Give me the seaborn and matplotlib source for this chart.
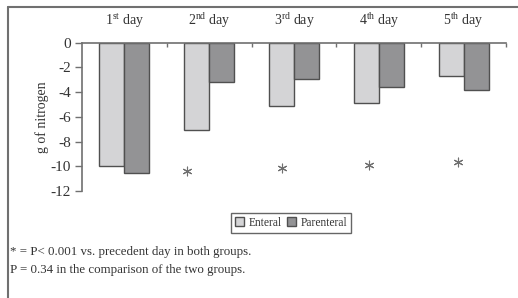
import matplotlib
matplotlib.use("Agg")
import matplotlib.pyplot as plt
import seaborn as sns
import pandas as pd
from matplotlib.lines import Line2D

days = ["1$^{\\mathrm{st}}$ day", "2$^{\\mathrm{nd}}$ day", "3$^{\\mathrm{rd}}$ day",
        "4$^{\\mathrm{th}}$ day", "5$^{\\mathrm{th}}$ day"]
enteral = [-10.0, -7.05, -5.1, -4.9, -2.7]
parenteral = [-10.5, -3.2, -2.9, -3.6, -3.8]
groups = ["Enteral", "Parenteral"]
colors = ["#d4d4d6", "#939395"]
yticks = [0, -2, -4, -6, -8, -10, -12]
# asterisk annotation positions (category index, value)
star_x = [0.74, 1.86, 2.89, 3.93]
star_y = [-10.4, -10.1, -9.9, -9.6]
footnotes = ["* = P< 0.001 vs. precedent day in both groups.",
             "P = 0.34 in the comparison of the two groups."]

df = pd.DataFrame({
    "day": days * 2,
    "group": [groups[0]] * 5 + [groups[1]] * 5,
    "value": enteral + parenteral,
})

sns.set_theme(style="white")
plt.rcParams["font.family"] = ["Liberation Serif", "DejaVu Serif"]
plt.rcParams["mathtext.fontset"] = "custom"
plt.rcParams["mathtext.rm"] = "Liberation Serif"

fig = plt.figure(figsize=(5.18, 2.98), dpi=100)
ax = fig.add_axes([82 / 518, 1 - 191.2 / 298, (506 - 82) / 518, (191.2 - 42.7) / 298])

sns.barplot(data=df, x="day", y="value", hue="group", palette=colors,
            width=0.59, gap=0, edgecolor="#505050", linewidth=1.0,
            ax=ax, legend=True)

ax.set_ylim(-12, 0)
ax.set_xlim(-0.5, 4.5)
ax.set_yticks(yticks)
ax.set_yticklabels([str(v) for v in yticks], fontsize=11)
ax.set_ylabel("g of nitrogen", fontsize=10, labelpad=1, color="#333333")
ax.set_xlabel("")

ax.xaxis.tick_top()
ax.set_xticks(range(5))
ax.set_xticklabels(days, fontsize=10)
ax.tick_params(axis="x", which="major", length=0, pad=9, colors="#333333")
ax.set_xticks([0.5, 1.5, 2.5, 3.5, 4.5], minor=True)
ax.tick_params(axis="x", which="minor", direction="in", length=3, width=1, color="#707070")
ax.tick_params(axis="y", direction="out", length=5, width=1, color="#707070",
               left=True, pad=3, labelcolor="#333333")

for s in ["right", "bottom"]:
    ax.spines[s].set_visible(False)
for s in ["top", "left"]:
    ax.spines[s].set_color("#707070")
    ax.spines[s].set_linewidth(1.2)

ax.scatter(star_x, star_y, marker=(6, 2, 0), s=40, color="#707070", linewidths=0.8, zorder=5)

leg = ax.legend(loc="upper left", bbox_to_anchor=(231 / 518, 1 - 212.5 / 298),
                bbox_transform=fig.transFigure, ncol=2, frameon=True, fancybox=False,
                fontsize=8.3, handlelength=0.8, handleheight=0.8, handletextpad=0.4,
                columnspacing=0.4, borderpad=0.35, borderaxespad=0)
leg.get_frame().set_edgecolor("#404040")
leg.get_frame().set_linewidth(1.0)
for t in leg.get_texts():
    t.set_color("#333333")

for i, t in enumerate(footnotes):
    fig.text(10 / 518, 1 - (252 + i * 17.5) / 298, t, fontsize=9.3, va="center",
             ha="left", color="#333333")

fig.add_artist(Line2D([7.5 / 518, 1], [1 - 6.5 / 298, 1 - 6.5 / 298],
                      transform=fig.transFigure, color="#707070", lw=1.5))
fig.add_artist(Line2D([7.5 / 518, 7.5 / 518], [0, 1 - 6.5 / 298],
                      transform=fig.transFigure, color="#707070", lw=1.5))

fig.savefig("out.png", dpi=100)
